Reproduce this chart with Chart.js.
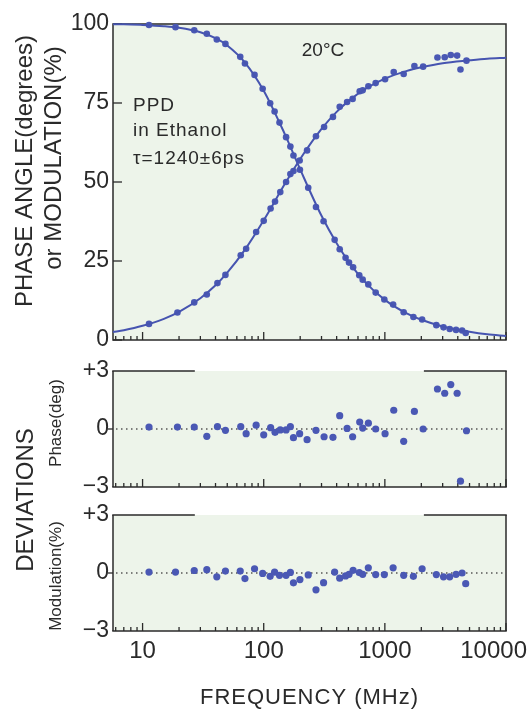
<!DOCTYPE html>
<html><head><meta charset="utf-8">
<script src="https://cdn.jsdelivr.net/npm/chart.js@4"></script>
<style>
html,body{margin:0;padding:0;background:#fff;width:530px;height:709px;overflow:hidden;}
.box{position:absolute;left:0;top:0;width:530px;height:709px;}
</style></head><body>
<div class="box"><canvas id="c1"></canvas></div>
<div class="box"><canvas id="c2"></canvas></div>
<div class="box"><canvas id="c3"></canvas></div>
<script>
// ---------- data ----------
const phaseFreq = [11.3, 19.4, 26.7, 33.9, 41.5, 48.3, 64.6, 71.6, 86.6, 100, 114, 124, 137, 153, 166, 176, 198, 228, 270, 315, 373, 424, 488, 542, 620, 656, 731, 840, 1004, 1184, 1430, 1753, 2070, 2717, 3120, 3500, 3950, 4210, 4720];
const phaseDeg = [5.1, 8.7, 11.9, 14.4, 18.0, 20.6, 26.8, 28.9, 34.2, 37.7, 41.6, 43.8, 46.8, 50.0, 52.5, 53.5, 56.8, 60.0, 64.5, 67.4, 70.6, 73.8, 75.3, 76.3, 78.7, 79.0, 80.3, 81.3, 82.5, 84.8, 84.2, 86.7, 86.5, 89.4, 89.5, 90.2, 90.0, 85.6, 88.4];
const phaseDev = [0.1, 0.1, 0.1, -0.38, 0.12, -0.07, 0.12, -0.24, 0.2, -0.3, 0.07, -0.17, -0.05, -0.05, 0.12, -0.45, -0.24, -0.55, -0.07, -0.4, -0.43, 0.69, 0.03, -0.4, 0.36, 0.05, 0.3, 0, -0.24, 0.97, -0.64, 0.91, 0, 2.07, 1.85, 2.3, 1.85, -2.7, -0.09];

const modFreq = [11.3, 18.7, 26.7, 33.9, 41, 48.3, 64, 70, 84, 98, 113, 123, 135, 153, 166, 176, 199, 233, 270, 312, 385, 424, 474, 506, 547, 615, 656, 730, 840, 990, 1170, 1430, 1720, 2030, 2660, 3050, 3430, 3870, 4340, 4650];
const modPct = [99.7, 99.0, 98.0, 96.9, 95.1, 93.7, 89.6, 87.5, 83.9, 79.5, 74.9, 72.3, 68.8, 64.2, 61.2, 58.4, 53.9, 48.2, 42.1, 37.6, 31.7, 28.7, 26.0, 24.5, 23.0, 20.5, 19.1, 17.6, 15.0, 12.8, 11.2, 8.8, 7.3, 6.5, 4.7, 4.0, 3.5, 3.2, 3.0, 2.2];
const modDev = [0.05, 0.05, 0.13, 0.17, -0.2, 0.1, 0.1, -0.29, 0.22, -0.02, -0.17, 0.05, -0.12, -0.12, 0.03, -0.51, -0.34, -0.1, -0.87, -0.5, 0.05, -0.27, -0.15, -0.07, 0.14, 0.02, -0.07, 0.27, -0.08, -0.08, 0.27, -0.12, -0.17, 0.22, -0.08, -0.2, -0.2, -0.07, 0, -0.55];

const fitFreq = [5.7, 7, 10, 15, 20, 30, 40, 50, 70, 100, 150, 200, 300, 400, 500, 700, 1000, 1500, 2000, 3000, 5000, 7000, 10000];
const phaseFit = [2.5, 3.1, 4.5, 6.7, 8.9, 13.2, 17.3, 21.3, 28.6, 37.9, 49.5, 57.3, 66.8, 72.2, 75.6, 79.6, 82.7, 85.1, 86.3, 87.6, 88.5, 89.0, 89.3];
const modFit = [99.9, 99.9, 99.7, 99.3, 98.8, 97.4, 95.5, 93.2, 87.8, 78.9, 65.0, 54.0, 39.3, 30.6, 24.9, 18.0, 12.7, 8.5, 6.4, 4.3, 2.6, 1.8, 1.3];

const xRange = [5.7, 10000];
const xTickValues = [6,7,8,9,10,20,30,40,50,60,70,80,90,100,200,300,400,500,600,700,800,900,1000,2000,3000,4000,5000,6000,7000,8000,9000,10000];
const xLabelValues = [10, 100, 1000, 10000];
const xLabelTexts = ['10', '100', '1000', '10000'];
const yTopTicks = [0, 25, 50, 75, 100];
const devTicks = [-3, 0, 3];
const devTickTexts = ['\u22123', '0', '+3'];
const topGap = [27, 2100]; // frequencies where the deviation panels' top border is interrupted

// ---------- styles ----------
const INK = '#2a2a2a';
const BG = '#edf4ea';
const BLUE = '#4a58b4';
const LINE = '#4654b0';
const FAM = '"Liberation Sans", Arial, sans-serif';
Chart.defaults.font.family = FAM;
Chart.defaults.color = INK;

function pts(xs, ys){ return xs.map((x,i)=>({x, y: ys[i]})); }
function seg(ctx,x1,y1,x2,y2){ ctx.beginPath(); ctx.moveTo(x1,y1); ctx.lineTo(x2,y2); ctx.stroke(); }
function vText(ctx, str, x, y, size, spacing){
  ctx.save(); ctx.translate(x,y); ctx.rotate(-Math.PI/2);
  ctx.font = size + 'px ' + FAM; ctx.fillStyle = INK;
  ctx.textAlign = 'center'; ctx.textBaseline = 'alphabetic';
  if (spacing) ctx.letterSpacing = spacing + 'px';
  ctx.fillText(str, 0, 0); ctx.restore();
}
function hText(ctx, str, x, y, size, align, spacing){
  ctx.save(); ctx.font = size + 'px ' + FAM; ctx.fillStyle = INK;
  ctx.textAlign = align; ctx.textBaseline = 'middle';
  if (spacing) ctx.letterSpacing = spacing + 'px';
  ctx.fillText(str, x, y); ctx.restore();
}
function drawXTicks(ctx, x, a){
  ctx.save(); ctx.strokeStyle = INK; ctx.lineWidth = 1.3;
  xTickValues.forEach(v=>{
    const px = x.getPixelForValue(v);
    const len = xLabelValues.includes(v) ? 8 : 4;
    seg(ctx, px, a.bottom, px, a.bottom - len);
  });
  ctx.restore();
}

function xScaleOpts(){ return { type:'logarithmic', min:xRange[0], max:xRange[1], display:false }; }
function yOpts(min, max, tickVals, texts){
  return {
    type:'linear', min, max,
    afterBuildTicks: s => { s.ticks = tickVals.map(v=>({value:v})); },
    afterFit: s => { s.width = 113; },
    grid:{ display:false, drawTicks:false }, border:{ display:false },
    ticks:{ padding:4, color:INK, font:{ size:23 }, callback: v => texts ? texts[tickVals.indexOf(v)] : String(v) }
  };
}

// ---------- top panel ----------
const topPlugin = {
  id:'topPanel',
  beforeDatasetsDraw(chart){
    const {ctx, chartArea:a, scales:{x,y}} = chart;
    ctx.save();
    ctx.fillStyle = BG; ctx.fillRect(a.left, a.top, a.width, a.height);
    ctx.strokeStyle = INK; ctx.lineWidth = 1.5;
    ctx.strokeRect(a.left, a.top, a.width, a.height);
    ctx.lineWidth = 1.3;
    yTopTicks.forEach(v=>{ const py = y.getPixelForValue(v); seg(ctx, a.left, py, a.left + 9, py); });
    ctx.restore();
    drawXTicks(ctx, x, a);
  },
  afterDraw(chart){
    const ctx = chart.ctx;
    vText(ctx, 'PHASE ANGLE(degrees)', 32, 171, 24);
    vText(ctx, 'or MODULATION(%)', 61, 158, 24);
    hText(ctx, '20\u00B0C', 323, 51, 19, 'center');
    hText(ctx, 'PPD', 133, 106, 19, 'left', 1);
    hText(ctx, 'in Ethanol', 133, 131, 19, 'left', 1);
    hText(ctx, '\u03C4=1240\u00B16ps', 133, 159, 19, 'left', 1);
  }
};

new Chart(document.getElementById('c1'), {
  type:'scatter',
  data:{ datasets:[
    { label:'Phase fit', data:pts(fitFreq, phaseFit), showLine:true, pointRadius:0, borderColor:LINE, borderWidth:2, cubicInterpolationMode:'monotone', clip:false },
    { label:'Modulation fit', data:pts(fitFreq, modFit), showLine:true, pointRadius:0, borderColor:LINE, borderWidth:2, cubicInterpolationMode:'monotone', clip:false },
    { label:'Phase', data:pts(phaseFreq, phaseDeg), pointRadius:3.3, backgroundColor:BLUE, borderColor:BLUE, borderWidth:0, clip:false },
    { label:'Modulation', data:pts(modFreq, modPct), pointRadius:3.3, backgroundColor:BLUE, borderColor:BLUE, borderWidth:0, clip:false }
  ]},
  options:{
    responsive:true, maintainAspectRatio:false, animation:false, events:[],
    layout:{ padding:{ left:0, right:24, top:24, bottom:369 } },
    plugins:{ legend:{display:false}, tooltip:{enabled:false} },
    scales:{ x:xScaleOpts(), y:yOpts(0, 100, yTopTicks, null) }
  },
  plugins:[topPlugin]
});

// ---------- deviation panels ----------
function devPlugin(id, extra){
  return {
    id,
    beforeDatasetsDraw(chart){
      const {ctx, chartArea:a, scales:{x,y}} = chart;
      ctx.save();
      ctx.fillStyle = BG; ctx.fillRect(a.left, a.top, a.width, a.height);
      ctx.strokeStyle = INK; ctx.lineWidth = 1.5;
      seg(ctx, a.left, a.top, a.left, a.bottom);
      seg(ctx, a.right, a.top, a.right, a.bottom);
      seg(ctx, a.left - 0.75, a.bottom, a.right + 0.75, a.bottom);
      seg(ctx, a.left - 0.75, a.top, x.getPixelForValue(topGap[0]), a.top);
      seg(ctx, x.getPixelForValue(topGap[1]), a.top, a.right + 0.75, a.top);
      const y0 = y.getPixelForValue(0);
      ctx.lineWidth = 1.3;
      seg(ctx, a.left - 5, y0, a.left, y0);
      ctx.strokeStyle = '#555'; ctx.lineWidth = 1.3; ctx.setLineDash([1.5, 3.5]);
      seg(ctx, a.left + 3, y0, a.right, y0);
      ctx.restore();
      drawXTicks(ctx, x, a);
    },
    afterDraw(chart){ if (extra) extra(chart); }
  };
}

function devChart(id, freq, dev, padTop, padBottom, plugin){
  new Chart(document.getElementById(id), {
    type:'scatter',
    data:{ datasets:[ { data:pts(freq, dev), pointRadius:3.6, backgroundColor:BLUE, borderColor:BLUE, borderWidth:0, clip:false } ] },
    options:{
      responsive:true, maintainAspectRatio:false, animation:false, events:[],
      layout:{ padding:{ left:0, right:24, top:padTop, bottom:padBottom } },
      plugins:{ legend:{display:false}, tooltip:{enabled:false} },
      scales:{ x:xScaleOpts(), y:yOpts(-3, 3, devTicks, devTickTexts) }
    },
    plugins:[plugin]
  });
}

devChart('c2', phaseFreq, phaseDev, 371, 222, devPlugin('phaseDev', null));

devChart('c3', modFreq, modDev, 515, 78, devPlugin('modDev', chart => {
  const {ctx, chartArea:a, scales:{x}} = chart;
  ctx.save();
  ctx.font = '24px ' + FAM;
  xLabelValues.forEach((v,i)=>{
    const w = ctx.measureText(xLabelTexts[i]).width;
    let px = x.getPixelForValue(v);
    px = Math.min(px, chart.width - w/2 - 3);
    hText(ctx, xLabelTexts[i], px, a.bottom + 20, 24, 'center');
  });
  ctx.restore();
  hText(ctx, 'FREQUENCY (MHz)', (a.left + a.right)/2, a.bottom + 67, 22, 'center', 1);
  vText(ctx, 'DEVIATIONS', 33, 500, 24);
  vText(ctx, 'Phase(deg)', 61, 423, 17);
  vText(ctx, 'Modulation(%)', 61, 576, 17);
}));
</script>
</body></html>
